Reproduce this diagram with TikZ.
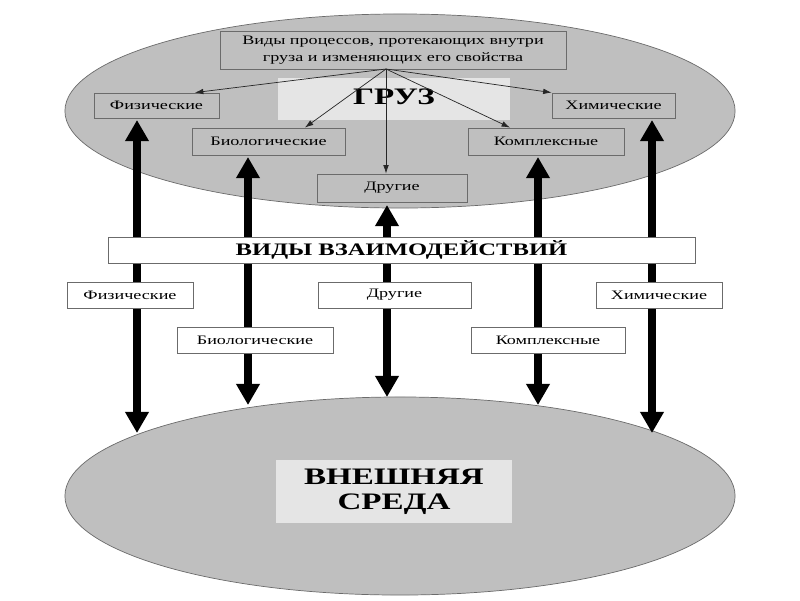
\documentclass[tikz,border=0pt]{standalone}
\usepackage{fontspec}
\setmainfont{Liberation Serif}[FakeStretch=1.4]
\usetikzlibrary{arrows.meta}
\usetikzlibrary{shapes.geometric}

\definecolor{ovalgray}{gray}{0.75}
\definecolor{linegray}{gray}{0.42}
\definecolor{pale}{gray}{0.9}

\begin{document}
\begin{tikzpicture}[x=0.025cm,y=-0.025cm]
    \tikzset{oval/.style = {shape=ellipse,draw=linegray,fill=ovalgray,line width=0.5pt,inner sep=0pt,minimum width=16.75cm}}
    \tikzset{box/.style = {shape=rectangle,draw=linegray,fill=ovalgray,line width=0.6pt,inner sep=0pt,minimum height=0.65cm,font=\fontsize{9.2}{12}\selectfont}}
    \tikzset{wbox/.style = {box,fill=white}}
    \tikzset{label/.style = {shape=rectangle,draw=none,fill=pale,inner sep=0pt,font=\fontsize{16.8}{17.5}\selectfont\bfseries}}
    \tikzset{edge/.style = {-{Latex[length=6pt,width=4pt]},draw=black!85,line width=0.5pt}}
    \tikzset{bigedge/.style = {{Triangle[length=15pt,width=16pt]}-{Triangle[length=15pt,width=16pt]},line width=5pt}}

    \useasboundingbox (0,0) rectangle (800,600);

    % ovals
    \node[oval,minimum height=4.85cm] (cargo) at (400,111) {};
    \node[oval,minimum height=4.95cm] (env) at (400,496) {};

    \node[label,minimum width=5.8cm,minimum height=1.05cm] (gruz) at (394,99) {\raisebox{3pt}{ГРУЗ}};
    \node[label,minimum width=5.9cm,minimum height=1.575cm,align=center] (sreda) at (394,491.5) {ВНЕШНЯЯ\\СРЕДА};

    % inner vertices
    \node[box,minimum width=8.65cm,minimum height=0.95cm,align=center] (proc) at (393,50)
        {Виды процессов, протекающих внутри\\груза и изменяющих его свойства};
    \coordinate (src) at (386,69);
    \node[box,minimum width=3.125cm,minimum height=0.625cm] (fiz1) at (156.5,105.5) {Физические};
    \node[box,minimum width=3.075cm,minimum height=0.625cm] (him1) at (613.5,105.5) {Химические};
    \node[box,minimum width=3.825cm,minimum height=0.675cm] (bio1) at (268.5,141.5) {Биологические};
    \node[box,minimum width=3.9cm,minimum height=0.675cm] (kom1) at (546,141.5) {Комплексные};
    \node[box,minimum width=3.75cm,minimum height=0.7cm] (dr1) at (392,188) {Другие};

    %edges
    \draw[edge] (src) to ([xshift=0.96cm]fiz1.north);
    \draw[edge] (src) to ([xshift=0.91cm]bio1.north);
    \draw[edge] (src) to (src |- dr1.north);
    \draw[edge] (src) to ([xshift=-0.9cm]kom1.north);
    \draw[edge] (src) to (him1.north west);

    % interactions
    \coordinate (t1) at (137,120);  \coordinate (b1) at (137,433);
    \coordinate (t2) at (248,157);  \coordinate (b2) at (248,405);
    \coordinate (t3) at (387,205);  \coordinate (b3) at (387,397);
    \coordinate (t4) at (538,157);  \coordinate (b4) at (538,405);
    \coordinate (t5) at (652,120);  \coordinate (b5) at (652,433);
    \foreach \i in {1,...,5}
        \draw[bigedge] (t\i) -- (b\i);

    \node[wbox,minimum width=14.675cm,font=\fontsize{12.5}{14}\selectfont\bfseries] (kinds) at (401.5,250) {ВИДЫ ВЗАИМОДЕЙСТВИЙ};
    \node[wbox,minimum width=3.15cm] (fiz2) at (130,295) {Физические};
    \node[wbox,minimum width=3.825cm] (dr2) at (394.5,295) {Другие};
    \node[wbox,minimum width=3.15cm] (him2) at (659,295) {Химические};
    \node[wbox,minimum width=3.9cm] (bio2) at (255,340) {Биологические};
    \node[wbox,minimum width=3.85cm] (kom2) at (548,340) {Комплексные};
\end{tikzpicture}
\end{document}
